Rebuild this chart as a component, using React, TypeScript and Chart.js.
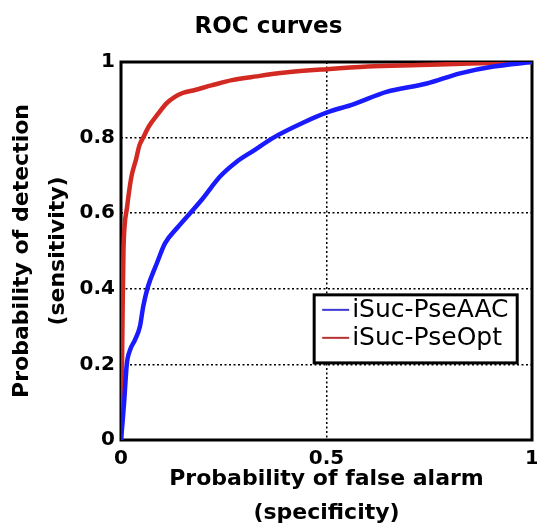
import React, { useEffect, useRef } from "react";
import { Chart, registerables } from "chart.js";

Chart.register(...registerables);

const titleText = "ROC curves";
const xTitle = ["Probability of false alarm", "(specificity)"];
const yTitle = ["Probability of detection", "(sensitivity)"];

const seriesNames = ["iSuc-PseAAC", "iSuc-PseOpt"];

const aacFpr = [0, 0.004, 0.008, 0.014, 0.022, 0.034, 0.046, 0.054, 0.064, 0.071, 0.087, 0.107, 0.139, 0.168, 0.196, 0.241, 0.28, 0.322, 0.371, 0.444, 0.5, 0.565, 0.646, 0.744, 0.825, 0.906, 1];
const aacTpr = [0, 0.05, 0.106, 0.2, 0.238, 0.265, 0.3, 0.353, 0.4, 0.423, 0.467, 0.52, 0.564, 0.6, 0.635, 0.697, 0.735, 0.765, 0.8, 0.84, 0.866, 0.888, 0.921, 0.943, 0.97, 0.988, 1];

const optFpr = [0, 0.002, 0.004, 0.006, 0.009, 0.014, 0.02, 0.026, 0.036, 0.045, 0.054, 0.068, 0.091, 0.11, 0.131, 0.15, 0.18, 0.22, 0.27, 0.33, 0.4, 0.5, 0.6, 0.727, 0.85, 1];
const optTpr = [0, 0.15, 0.35, 0.5, 0.57, 0.61, 0.66, 0.7, 0.74, 0.78, 0.8, 0.83, 0.864, 0.89, 0.908, 0.918, 0.926, 0.938, 0.952, 0.962, 0.972, 0.981, 0.988, 0.992, 0.996, 1];

const xTicks = [0, 0.5, 1];
const yTicks = [0, 0.2, 0.4, 0.6, 0.8, 1];

const lineColors = ["#1a1aff", "#d22a22"];
const legendColors = ["#3a3ad0", "#b83232"];

const toPoints = (xs: number[], ys: number[]) => xs.map((x, i) => ({ x, y: ys[i] }));

const boxPlugin = {
  id: "axesBox",
  beforeDatasetsDraw(chart: any) {
    const { ctx, chartArea } = chart;
    ctx.save();
    ctx.strokeStyle = "#000";
    ctx.lineWidth = 3;
    ctx.setLineDash([]);
    ctx.strokeRect(chartArea.left, chartArea.top, chartArea.right - chartArea.left, chartArea.bottom - chartArea.top);
    ctx.restore();
  },
};

const legendPlugin = {
  id: "insetLegend",
  afterDatasetsDraw(chart: any) {
    const { ctx, scales } = chart;
    const xs = scales.x;
    const ys = scales.y;
    const left = xs.getPixelForValue(0.47);
    const right = xs.getPixelForValue(0.964);
    const top = ys.getPixelForValue(0.384);
    const bottom = ys.getPixelForValue(0.204);
    ctx.save();
    ctx.fillStyle = "#fff";
    ctx.fillRect(left, top, right - left, bottom - top);
    ctx.strokeStyle = "#000";
    ctx.lineWidth = 3;
    ctx.setLineDash([]);
    ctx.strokeRect(left, top, right - left, bottom - top);
    ctx.font = "25px 'DejaVu Sans'";
    ctx.textBaseline = "middle";
    ctx.textAlign = "left";
    chart.data.datasets.forEach((ds: any, i: number) => {
      const cy = top + 15 + i * 28;
      ctx.strokeStyle = legendColors[i];
      ctx.lineWidth = 2;
      ctx.beginPath();
      ctx.moveTo(left + 8, cy);
      ctx.lineTo(left + 35, cy);
      ctx.stroke();
      ctx.fillStyle = "#000";
      ctx.fillText(ds.label, left + 38, cy + 1);
    });
    ctx.restore();
  },
};

const gridColor = (c: any) =>
  c.tick && (c.tick.value === 0 || c.tick.value === 1) ? "rgba(0,0,0,0)" : "#000";

export default function App() {
  const ref = useRef<HTMLCanvasElement | null>(null);
  useEffect(() => {
    if (!ref.current) return;
    const chart = new Chart(ref.current, {
      type: "scatter",
      data: {
        datasets: [
          {
            label: seriesNames[0],
            data: toPoints(aacFpr, aacTpr),
            showLine: true,
            borderColor: lineColors[0],
            backgroundColor: lineColors[0],
            borderWidth: 4.5,
            pointRadius: 0,
            cubicInterpolationMode: "monotone",
          },
          {
            label: seriesNames[1],
            data: toPoints(optFpr, optTpr),
            showLine: true,
            borderColor: lineColors[1],
            backgroundColor: lineColors[1],
            borderWidth: 4.5,
            pointRadius: 0,
            cubicInterpolationMode: "monotone",
          },
        ],
      },
      plugins: [boxPlugin, legendPlugin],
      options: {
        animation: false,
        responsive: false,
        maintainAspectRatio: false,
        layout: { padding: { left: 0, right: 0, top: 0, bottom: 0 } },
        plugins: {
          legend: { display: false },
          tooltip: { enabled: false },
          title: {
            display: true,
            text: titleText,
            color: "#000",
            font: { family: "'DejaVu Sans'", size: 23, weight: "bold", lineHeight: 1.2 },
            padding: { top: 13, bottom: 21.4 },
          },
        },
        scales: {
          x: {
            type: "linear",
            min: 0,
            max: 1,
            afterBuildTicks: (s: any) => {
              s.ticks = xTicks.map((v) => ({ value: v }));
            },
            afterFit: (s: any) => {
              s.height = 86;
              s.paddingLeft = 0;
              s.paddingRight = 5;
            },
            border: { display: false, dash: [2, 2.5] },
            grid: {
              color: gridColor,
              lineWidth: 1.5,
              drawTicks: false,
            },
            ticks: {
              padding: 7,
              color: "#000",
              maxRotation: 0,
              autoSkip: false,
              font: { family: "'DejaVu Sans'", size: 20, weight: "bold" },
              callback: (v: any) => String(v),
            },
            title: {
              display: true,
              text: xTitle,
              color: "#000",
              font: { family: "'DejaVu Sans'", size: 22, weight: "bold", lineHeight: 1.55 },
              padding: { top: 0, bottom: -4 },
            },
          },
          y: {
            type: "linear",
            min: 0,
            max: 1,
            afterBuildTicks: (s: any) => {
              s.ticks = yTicks.map((v) => ({ value: v }));
            },
            afterFit: (s: any) => {
              s.width = 121;
              s.paddingTop = 0;
              s.paddingBottom = 0;
            },
            border: { display: false, dash: [2, 2.5] },
            grid: {
              color: gridColor,
              lineWidth: 1.5,
              drawTicks: false,
            },
            ticks: {
              padding: 6,
              color: "#000",
              autoSkip: false,
              font: { family: "'DejaVu Sans'", size: 20, weight: "bold" },
              callback: (v: any) => String(v),
            },
            title: {
              display: true,
              text: yTitle,
              color: "#000",
              font: { family: "'DejaVu Sans'", size: 22, weight: "bold", lineHeight: 1.64 },
              padding: { top: 4, bottom: 0 },
            },
          },
        },
      },
    } as any);
    return () => chart.destroy();
  }, []);
  return (
    <div style={{ position: "fixed", left: 0, top: 0, width: 537, height: 526, background: "#fff" }}>
      <canvas ref={ref} width={537} height={526} style={{ width: 537, height: 526 }} />
    </div>
  );
}
